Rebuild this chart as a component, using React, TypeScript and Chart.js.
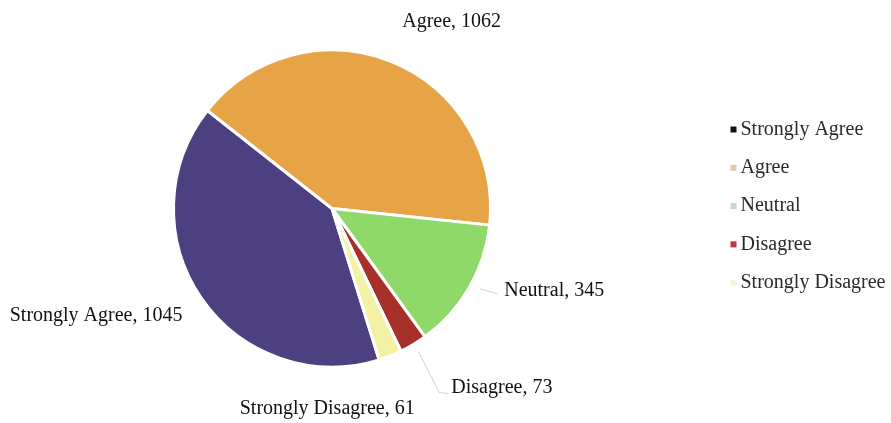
import React, { useEffect, useRef } from "react";
import { Chart, registerables } from "chart.js";

Chart.register(...registerables);

const categories = ["Strongly Agree", "Agree", "Neutral", "Disagree", "Strongly Disagree"];
const counts = [1045, 1062, 345, 73, 61];
const sliceColors = ["#4d4080", "#e6a446", "#8fd86a", "#a8302b", "#f4f1a4"];
const legendMarkerColors = ["#141414", "#e6c9a6", "#c4dcc4", "#c23446", "#f2f8d4"];
// label placement relative to the slice's outer mid point: [dx, dy, align]
const labelOffsets: [number, number, CanvasTextAlign][] = [
  [-19, 17, "right"],
  [60, -40, "center"],
  [35, 3, "left"],
  [38, 43, "left"],
  [-63, 53, "center"],
];

const labelPlugin = {
  id: "sliceLabels",
  afterDatasetsDraw(chart: any) {
    const ctx = chart.ctx;
    const meta = chart.getDatasetMeta(0);
    ctx.save();
    ctx.font = '20px "Liberation Serif", "Times New Roman", serif';
    ctx.fillStyle = "#111";
    ctx.textBaseline = "middle";
    meta.data.forEach((arc: any, i: number) => {
      const p = arc.getProps(["x", "y", "startAngle", "endAngle", "outerRadius"], true);
      const mid = (p.startAngle + p.endAngle) / 2;
      const ex = p.x + Math.cos(mid) * p.outerRadius;
      const ey = p.y + Math.sin(mid) * p.outerRadius;
      const [dx, dy, align] = labelOffsets[i];
      const tx = ex + dx;
      const ty = ey + dy;
      if (i === 2 || i === 3) {
        ctx.strokeStyle = "rgba(170,170,170,0.55)";
        ctx.lineWidth = 1;
        ctx.beginPath();
        if (i === 2) {
          ctx.moveTo(ex + 11, ey + 1);
          ctx.lineTo(tx - 7, ty + 3);
        } else {
          ctx.moveTo(ex + 5, ey + 7);
          ctx.lineTo(tx - 12, ty + 5);
          ctx.lineTo(tx - 3, ty + 6);
        }
        ctx.stroke();
      }
      ctx.textAlign = align;
      ctx.fillText(`${categories[i]}, ${counts[i]}`, tx, ty);
    });
    ctx.restore();
  },
};

const legendPlugin = {
  id: "sideLegend",
  afterDraw(chart: any) {
    const ctx = chart.ctx;
    const meta = chart.getDatasetMeta(0);
    const first = meta.data[0];
    if (!first) return;
    const cx = first.x;
    const cy = first.y;
    const R = first.outerRadius;
    ctx.save();
    ctx.font = '20px "Liberation Serif", "Times New Roman", serif';
    ctx.textBaseline = "middle";
    ctx.textAlign = "left";
    const x0 = cx + R + 240;
    const y0 = cy - 79;
    categories.forEach((c, i) => {
      const y = y0 + i * 38.3;
      ctx.fillStyle = legendMarkerColors[i];
      ctx.fillRect(x0, y - 3, 6, 6);
      ctx.fillStyle = "#2a2a2a";
      ctx.fillText(c, x0 + 10, y);
    });
    ctx.restore();
  },
};

export default function App() {
  const ref = useRef<HTMLCanvasElement>(null);
  useEffect(() => {
    if (!ref.current) return;
    const chart = new Chart(ref.current, {
      type: "pie",
      data: {
        labels: categories,
        datasets: [
          {
            data: counts,
            backgroundColor: sliceColors,
            borderColor: "#ffffff",
            borderWidth: 3,
          },
        ],
      },
      options: {
        animation: false,
        responsive: false,
        rotation: 162.7,
        layout: { padding: { left: 172, right: 399, top: 47, bottom: 53 } },
        plugins: {
          legend: { display: false },
          tooltip: { enabled: false },
        },
      },
      plugins: [labelPlugin, legendPlugin],
    });
    return () => chart.destroy();
  }, []);
  return (
    <div style={{ position: "fixed", left: 0, top: 0, width: 891, height: 423, background: "#fff" }}>
      <canvas ref={ref} width={891} height={423} style={{ width: 891, height: 423 }} />
    </div>
  );
}
